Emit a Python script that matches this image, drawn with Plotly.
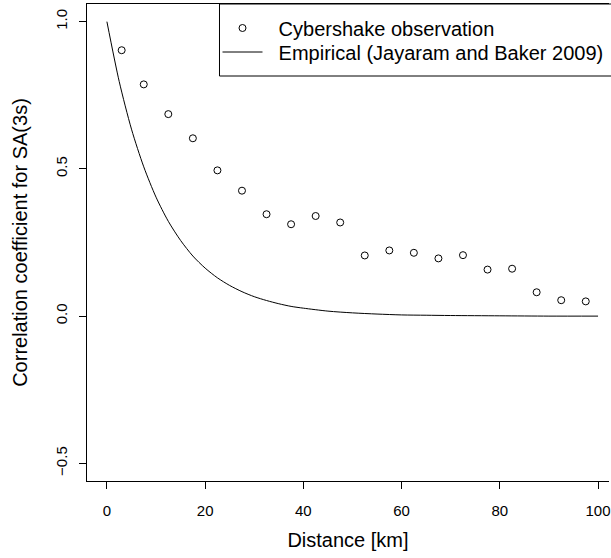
import plotly.graph_objects as go

# Cybershake observation (bin centres, km) and correlation values
obs_distance = [3.0, 7.5, 12.5, 17.5, 22.5, 27.5, 32.5, 37.5, 42.5, 47.5,
                52.5, 57.5, 62.5, 67.5, 72.5, 77.5, 82.5, 87.5, 92.5, 97.5]
obs_corr = [0.903, 0.787, 0.686, 0.604, 0.495, 0.426, 0.346, 0.312, 0.340, 0.318,
            0.206, 0.223, 0.215, 0.196, 0.207, 0.158, 0.161, 0.081, 0.054, 0.050]

# Empirical curve
emp_distance = [0, 2.5, 5, 7.5, 10, 12.5, 15, 17.5, 20, 22.5, 25, 27.5, 30, 32.5, 35,
                37.5, 40, 45, 50, 55, 60, 65, 70, 80, 90, 100]
emp_corr = [1.000, 0.797, 0.635, 0.507, 0.404, 0.322, 0.257, 0.204, 0.163, 0.130,
            0.104, 0.083, 0.066, 0.053, 0.042, 0.033, 0.027, 0.017, 0.011, 0.007,
            0.004, 0.003, 0.002, 0.001, 0.000, 0.000]

x_ticks = [0, 20, 40, 60, 80, 100]
y_ticks = [-0.5, 0.0, 0.5, 1.0]

FONT = "Liberation Sans, Arial, Helvetica, sans-serif"
NB = "\u00a0\u00a0"

W, H = 611, 558
L, R, T, B = 87, 0, 4, 77
pw = W - L - R
ph = H - T - B

def px_x(p):
    return (p - L) / pw

def px_y(p):
    return (H - B - p) / ph

fig = go.Figure()
fig.add_trace(go.Scatter(
    x=obs_distance, y=obs_corr, mode="markers",
    name=NB + "Cybershake observation", legend="legend",
    marker=dict(symbol="circle-open", size=7, color="black", line=dict(width=1, color="black")),
))
fig.add_trace(go.Scatter(
    x=emp_distance, y=emp_corr, mode="lines",
    name=NB + "Empirical (Jayaram and Baker 2009)", legend="legend2",
    line=dict(color="black", width=1, shape="spline", smoothing=0.8),
))

fig.add_shape(type="rect", xref="paper", yref="paper",
              x0=px_x(220), x1=1.1, y0=px_y(76), y1=1.0,
              line=dict(color="black", width=1), fillcolor="white", layer="below")

leg_common = dict(xanchor="left", yanchor="middle", bgcolor="rgba(0,0,0,0)", borderwidth=0,
                  font=dict(size=20, family=FONT), itemwidth=40)

px_per_unit = (600 - 107) / 100.0
x_lo = -(107 - L) / px_per_unit
x_hi = (W - 107) / px_per_unit

fig.update_layout(
    width=W, height=H,
    margin=dict(l=L, r=R, t=T, b=B, pad=0),
    paper_bgcolor="white", plot_bgcolor="white",
    font=dict(family=FONT, color="black", size=15),
    showlegend=True,
    legend=dict(x=px_x(218), y=px_y(28), **leg_common),
    legend2=dict(x=px_x(218), y=px_y(52), **leg_common),
    xaxis=dict(
        range=[x_lo, x_hi],
        tickvals=x_ticks, ticks="outside", ticklen=7, tickcolor="black", tickwidth=1,
        ticklabelstandoff=9, ticklabeloverflow="allow",
        showline=True, linecolor="black", linewidth=1, mirror=True,
        showgrid=False, zeroline=False,
        tickfont=dict(size=15),
        title=dict(text="Distance [km]", font=dict(size=20), standoff=14),
    ),
    yaxis=dict(
        range=[-0.56, 1.06],
        tickvals=y_ticks, tickformat=".1f", tickangle=-90,
        ticks="outside", ticklen=7, tickcolor="black", tickwidth=1,
        ticklabelstandoff=6, ticklabeloverflow="allow",
        showline=True, linecolor="black", linewidth=1, mirror=False,
        showgrid=False, zeroline=False,
        tickfont=dict(size=15),
        title=dict(text="Correlation coefficient for SA(3s)", font=dict(size=20), standoff=20),
    ),
)

fig.write_html("out.html", config={"displayModeBar": False},
               post_script="document.body.style.margin='0px';")
